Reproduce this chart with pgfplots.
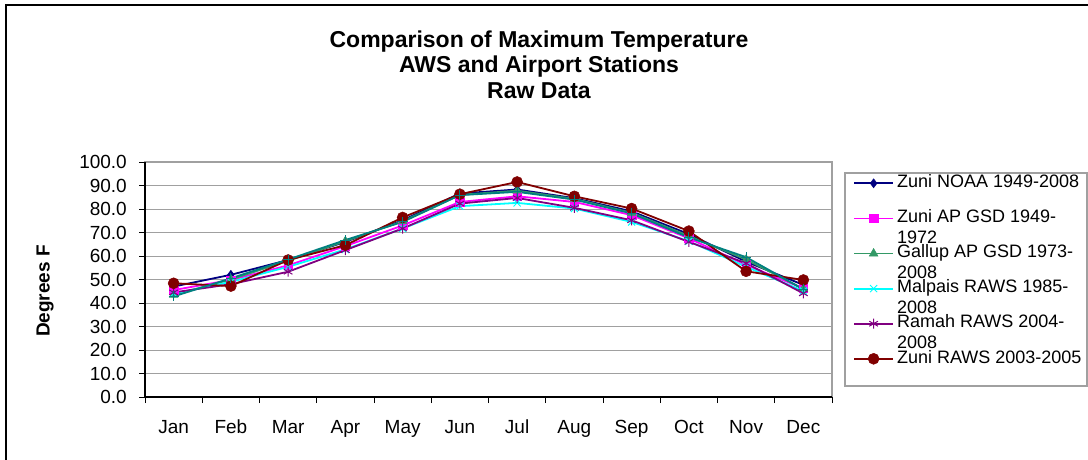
\documentclass[border=0pt]{standalone}
\usepackage{fontspec}
\setmainfont{Liberation Sans}
\usepackage{pgfplots}
\pgfplotsset{compat=1.18}
\definecolor{navyc}{RGB}{0,0,128}
\definecolor{magc}{RGB}{255,0,255}
\definecolor{greenc}{RGB}{51,153,102}
\definecolor{cyanc}{RGB}{0,255,255}
\definecolor{purplec}{RGB}{128,0,128}
\definecolor{redc}{RGB}{128,0,0}
\definecolor{tealc}{RGB}{0,128,128}
\definecolor{gridc}{RGB}{160,160,160}
\newcommand{\two}[2]{\smash{\begin{tabular}[t]{@{}l@{}}#1\\#2\end{tabular}}}
\begin{document}
\begin{tikzpicture}[x=1pt,y=1pt]
\path[use as bounding box] (0,0) rectangle (1088,-460);
\draw[line width=2pt] (6,-460) -- (6,-5) -- (1088,-5);
\node[font=\bfseries\fontsize{23}{26}\selectfont, anchor=base] at (539,-47.3) {Comparison of Maximum Temperature};
\node[font=\bfseries\fontsize{23}{26}\selectfont, anchor=base] at (539,-72.8) {AWS and Airport Stations};
\node[font=\bfseries\fontsize{23}{26}\selectfont, anchor=base] at (539,-98.3) {Raw Data};
\node[font=\bfseries\fontsize{19}{22}\selectfont, rotate=90] at (45,-291) {Degrees F};
\begin{axis}[
  at={(145pt,-397pt)}, anchor=south west,
  scale only axis, width=687pt, height=235pt,
  xmin=-0.5, xmax=11.5, ymin=0, ymax=100,
  axis x line=bottom, axis y line=left,
  axis line style={-, black, line width=1.2pt},
  axis background/.style={draw=gridc, line width=1.2pt},
  xtick={-0.5,0.5,...,11.5}, xticklabels={},
  extra x ticks={0,1,...,11},
  extra x tick labels={Jan,Feb,Mar,Apr,May,Jun,Jul,Aug,Sep,Oct,Nov,Dec},
  extra x tick style={major tick length=0pt, xticklabel style={inner sep=0pt, anchor=north, yshift=-23pt}},
  ytick={0,10,...,100},
  yticklabel style={inner sep=0pt, anchor=east, xshift=-12pt, /pgf/number format/.cd, fixed, fixed zerofill, precision=1},
  tick align=outside, major tick length=6pt,
  tick style={black, line width=0.8pt},
  tick label style={font=\fontsize{19}{22}\selectfont},
  /pgf/number format/assume math mode=true,
  ymajorgrids, grid style={gridc, line width=1pt},
  every axis plot/.append style={line width=1.8pt},
  legend image code/.code={\draw[line width=1.8pt, mark repeat=2,mark phase=2,#1] plot coordinates {(0pt,0pt) (19.5pt,0pt) (39pt,0pt)};},
  legend style={draw=none, fill=none, at={(axis description cs:1.0306,0.9549)}, anchor=north west,
    inner sep=0pt, row sep=14.1pt, column sep=3pt, font=\fontsize{18}{21}\selectfont,
    nodes={inner sep=0pt, text height=14.7pt, text depth=6.3pt}},
  legend cell align=left,
]
\addplot[navyc, mark=diamond*, mark size=4.5pt, mark options={solid, line width=0.5pt}] coordinates {
(0,47.0) (1,52.0) (2,58.3) (3,66.0) (4,75.2) (5,86.6) (6,88.3) (7,84.6) (8,79.0) (9,69.3) (10,57.6) (11,47.7)};
\addlegendentry{Zuni NOAA 1949-2008}
\addplot[magc, mark=square*, mark size=4.2pt, mark options={solid, line width=0.5pt}] coordinates {
(0,45.5) (1,49.8) (2,56.0) (3,64.2) (4,73.0) (5,83.0) (6,85.4) (7,83.0) (8,77.4) (9,67.5) (10,56.2) (11,46.2)};
\addlegendentry{\two{Zuni AP GSD 1949-}{1972}}
\addplot[greenc, mark=triangle*, mark size=5pt, mark options={solid, line width=0.5pt}] coordinates {
(0,43.5) (1,50.0) (2,58.0) (3,66.3) (4,74.8) (5,86.0) (6,87.8) (7,84.3) (8,78.4) (9,68.5) (10,58.5) (11,46.0)};
\addlegendentry{\two{Gallup AP GSD 1973-}{2008}}
\addplot[cyanc, mark=x, mark size=5pt, mark options={solid, line width=1pt}] coordinates {
(0,44.0) (1,49.0) (2,55.4) (3,62.8) (4,71.7) (5,81.2) (6,82.6) (7,80.2) (8,74.5) (9,66.3) (10,55.4) (11,45.1)};
\addlegendentry{\two{Malpais RAWS 1985-}{2008}}
\addplot[purplec, mark=asterisk, mark size=5pt, mark options={solid, line width=1pt}] coordinates {
(0,44.5) (1,48.0) (2,53.3) (3,62.5) (4,71.7) (5,82.3) (6,84.7) (7,80.5) (8,75.2) (9,66.0) (10,56.9) (11,44.1)};
\addlegendentry{\two{Ramah RAWS 2004-}{2008}}
\addplot[redc, mark=*, mark size=5.5pt, mark options={solid, line width=0.5pt}] coordinates {
(0,48.4) (1,47.2) (2,58.3) (3,64.6) (4,76.4) (5,86.3) (6,91.5) (7,85.4) (8,80.2) (9,70.6) (10,53.5) (11,49.8)};
\addlegendentry{Zuni RAWS 2003-2005}
\addplot[tealc, mark=+, mark size=5pt, mark options={solid, line width=1pt}, forget plot] coordinates {
(0,42.8) (1,50.5) (2,58.5) (3,66.8) (4,74.5) (5,85.9) (6,87.3) (7,84.0) (8,78.1) (9,67.9) (10,59.5) (11,45.8)};
\end{axis}
\draw[gridc, line width=1.2pt] (845,-173) rectangle (1087,-386);
\end{tikzpicture}
\end{document}
